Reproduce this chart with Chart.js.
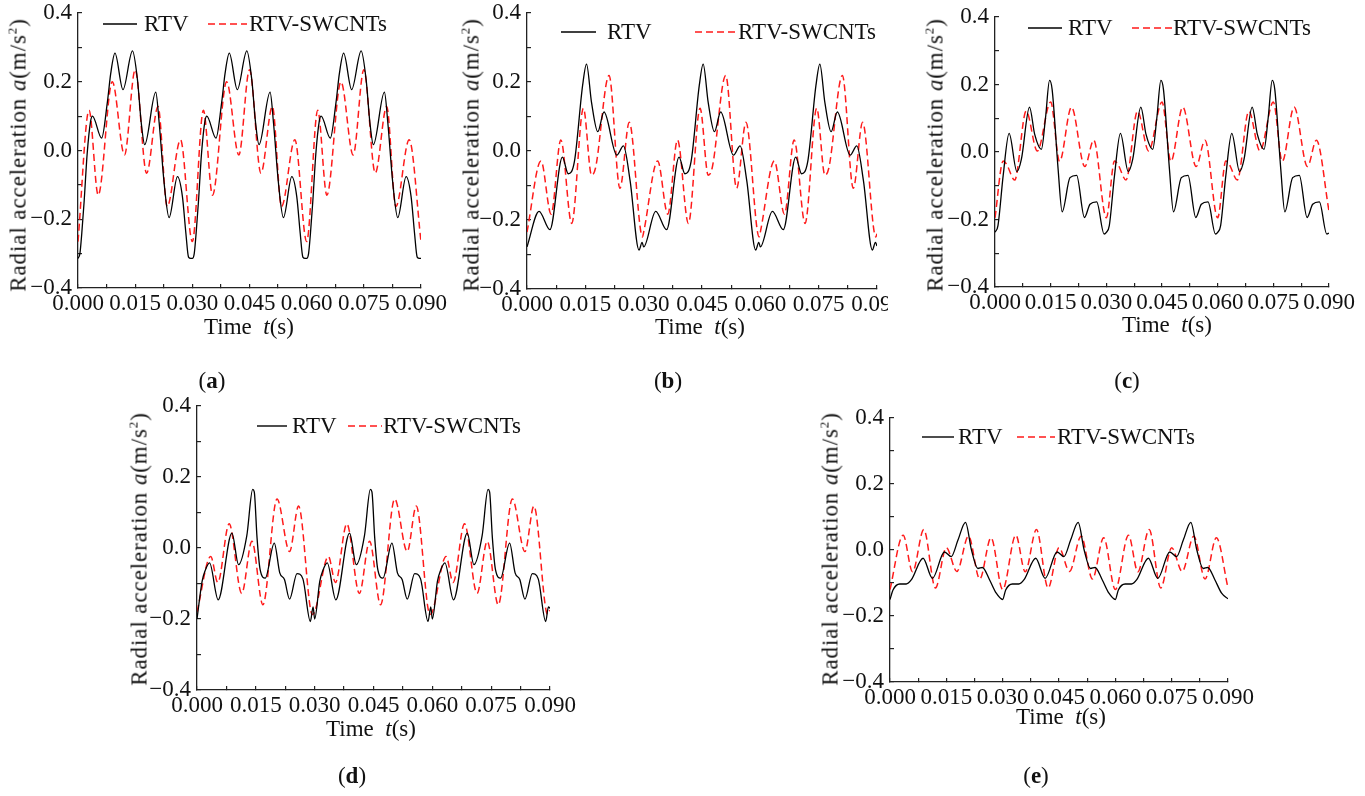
<!DOCTYPE html>
<html lang="en">
<head>
<meta charset="UTF-8">
<script src="https://cdn.jsdelivr.net/npm/chart.js"></script>
<title>Radial acceleration</title>
<style>
    html, body {
        margin: 0;
        padding: 0;
        background: #fff;
    }
    #page {
        position: relative;
        width: 1365px;
        height: 796px;
        overflow: hidden;
        font-family: 'Liberation Serif', 'Times New Roman', serif;
        color: #111;
    }
    .txt {
        position: absolute;
        white-space: nowrap;
        line-height: 26px;
    }
    .ytitle {
        font-size: 23px;
        letter-spacing: 0.9px;
        transform: translate(-50%, -50%) rotate(-90deg);
    }
    .xtitle {
        font-size: 23px;
        transform: translate(-50%, -50%);
    }
    .tag {
        font-size: 23px;
        transform: translate(-50%, -50%);
    }
    .leg {
        font-size: 23px;
    }
    .sup {
        font-size: 13px;
        position: relative;
        top: -9px;
    }
</style>
</head>
<body>
<div id="page"></div>
<script>
    // time in ms, acceleration in m/s^2

    // (a)
    const aRtvT = [0, 0.5, 1.0, 1.6, 2.4, 3.3, 3.8, 6.2, 7.7, 8.6, 9.7, 11.8, 14.3, 15.6, 16.6, 17.5, 20.4, 21.3, 22.6, 23.9, 26.1, 27.4, 28.3, 29.0, 29.6,
        30, 30.5, 31.0, 31.6, 32.4, 33.3, 33.8, 36.2, 37.7, 38.6, 39.7, 41.8, 44.3, 45.6, 46.6, 47.5, 50.4, 51.3, 52.6, 53.9, 56.1, 57.4, 58.3, 59.0, 59.6,
        60, 60.5, 61.0, 61.6, 62.4, 63.3, 63.8, 66.2, 67.7, 68.6, 69.7, 71.8, 74.3, 75.6, 76.6, 77.5, 80.4, 81.3, 82.6, 83.9, 86.1, 87.4, 88.3, 89.0, 89.6, 90];
    const aRtvV = [-0.314, -0.30, -0.24, -0.15, -0.01, 0.085, 0.10, 0.036, 0.14, 0.225, 0.283, 0.177, 0.29, 0.206, 0.08, 0.017, 0.17, 0.08, -0.095, -0.195, -0.076, -0.134, -0.24, -0.31, -0.314,
        -0.314, -0.30, -0.24, -0.15, -0.01, 0.085, 0.10, 0.036, 0.14, 0.225, 0.283, 0.177, 0.29, 0.206, 0.08, 0.017, 0.17, 0.08, -0.095, -0.195, -0.076, -0.134, -0.24, -0.31, -0.314,
        -0.314, -0.30, -0.24, -0.15, -0.01, 0.085, 0.10, 0.036, 0.14, 0.225, 0.283, 0.177, 0.29, 0.206, 0.08, 0.017, 0.17, 0.08, -0.095, -0.195, -0.076, -0.134, -0.24, -0.31, -0.314, -0.314];
    const aSwT = [0, 2.9, 5.3, 9.0, 12.2, 15.0, 18.0, 21.0, 23.4, 26.9,
        30, 32.9, 35.3, 39.0, 42.2, 45.0, 48.0, 51.0, 53.4, 56.9,
        60, 62.9, 65.3, 69.0, 72.2, 75.0, 78.0, 81.0, 83.4, 86.9, 90];
    const aSwV = [-0.265, 0.117, -0.13, 0.20, -0.013, 0.235, -0.066, 0.128, -0.163, 0.031,
        -0.265, 0.117, -0.13, 0.20, -0.013, 0.235, -0.066, 0.128, -0.163, 0.031,
        -0.265, 0.117, -0.13, 0.20, -0.013, 0.235, -0.066, 0.128, -0.163, 0.031, -0.265];

    // (b)
    const bRtvT = [0, 3.1, 5.9, 9.1, 10.6, 12.2, 14.3, 15.3, 16.6, 18.2, 19.8, 23.1, 24.8, 26.5, 28.8, 29.6,
        30, 33.1, 35.9, 39.1, 40.6, 42.2, 44.3, 45.3, 46.6, 48.2, 49.8, 53.1, 54.8, 56.5, 58.8, 59.6,
        60, 63.1, 65.9, 69.1, 70.6, 72.2, 74.3, 75.3, 76.6, 78.2, 79.8, 83.1, 84.8, 86.5, 88.8, 89.6, 90];
    const bRtvV = [-0.278, -0.175, -0.228, -0.018, -0.066, -0.03, 0.19, 0.252, 0.14, 0.056, 0.113, -0.012, 0.015, -0.085, -0.287, -0.265,
        -0.278, -0.175, -0.228, -0.018, -0.066, -0.03, 0.19, 0.252, 0.14, 0.056, 0.113, -0.012, 0.015, -0.085, -0.287, -0.265,
        -0.278, -0.175, -0.228, -0.018, -0.066, -0.03, 0.19, 0.252, 0.14, 0.056, 0.113, -0.012, 0.015, -0.085, -0.287, -0.265, -0.275];
    const bSwT = [0, 3.6, 6.2, 8.7, 11.5, 14.5, 16.6, 17.6, 21.1, 23.9, 26.3, 29.7,
        30, 33.6, 36.2, 38.7, 41.5, 44.5, 46.6, 47.6, 51.1, 53.9, 56.3, 59.7,
        60, 63.6, 66.2, 68.7, 71.5, 74.5, 76.6, 77.6, 81.1, 83.9, 86.3, 89.7, 90];
    const bSwV = [-0.235, -0.029, -0.183, 0.032, -0.21, 0.124, -0.07, -0.05, 0.219, -0.108, 0.083, -0.249,
        -0.235, -0.029, -0.183, 0.032, -0.21, 0.124, -0.07, -0.05, 0.219, -0.108, 0.083, -0.249,
        -0.235, -0.029, -0.183, 0.032, -0.21, 0.124, -0.07, -0.05, 0.219, -0.108, 0.083, -0.249, -0.24];

    // (c)
    const cRtvT = [0, 0.8, 2.2, 3.8, 5.9, 7.1, 9.3, 10.7, 12.5, 13.6, 14.7, 15.4, 17.0, 18.1, 20.2, 22.0, 24.1, 25.6, 27.4, 29.4,
        30, 30.8, 32.2, 33.8, 35.9, 37.1, 39.3, 40.7, 42.5, 43.6, 44.7, 45.4, 47.0, 48.1, 50.2, 52.0, 54.1, 55.6, 57.4, 59.4,
        60, 60.8, 62.2, 63.8, 65.9, 67.1, 69.3, 70.7, 72.5, 73.6, 74.7, 75.4, 77.0, 78.1, 80.2, 82.0, 84.1, 85.6, 87.4, 89.4, 90];
    const cRtvV = [-0.238, -0.218, -0.07, 0.055, -0.058, -0.022, 0.133, 0.052, 0.008, 0.10, 0.212, 0.185, -0.05, -0.177, -0.076, -0.069, -0.194, -0.155, -0.148, -0.243,
        -0.238, -0.218, -0.07, 0.055, -0.058, -0.022, 0.133, 0.052, 0.008, 0.10, 0.212, 0.185, -0.05, -0.177, -0.076, -0.069, -0.194, -0.155, -0.148, -0.243,
        -0.238, -0.218, -0.07, 0.055, -0.058, -0.022, 0.133, 0.052, 0.008, 0.10, 0.212, 0.185, -0.05, -0.177, -0.076, -0.069, -0.194, -0.155, -0.148, -0.243, -0.24];
    const cSwT = [0, 2.2, 3.1, 5.3, 8.4, 11.4, 15.0, 17.4, 20.6, 24.2, 26.6,
        30, 32.2, 33.1, 35.3, 38.4, 41.4, 45.0, 47.4, 50.6, 54.2, 56.6,
        60, 62.2, 63.1, 65.3, 68.4, 71.4, 75.0, 77.4, 80.6, 84.2, 86.6, 90];
    const cSwV = [-0.195, -0.027, -0.036, -0.083, 0.121, 0.003, 0.148, -0.028, 0.133, -0.043, 0.035,
        -0.195, -0.027, -0.036, -0.083, 0.121, 0.003, 0.148, -0.028, 0.133, -0.043, 0.035,
        -0.195, -0.027, -0.036, -0.083, 0.121, 0.003, 0.148, -0.028, 0.133, -0.043, 0.035, -0.175];

    // (d)
    const dRtvT = [0, 1.3, 2.1, 3.2, 5.4, 8.9, 10.6, 12.7, 14.2, 14.6, 15.3, 16.1, 17.4, 19.7, 21.1, 22.3, 23.6, 25.5, 27.0, 28.9, 29.6,
        30, 31.3, 32.1, 33.2, 35.4, 38.9, 40.6, 42.7, 44.2, 44.6, 45.3, 46.1, 47.4, 49.7, 51.1, 52.3, 53.6, 55.5, 57.0, 58.9, 59.6,
        60, 61.3, 62.1, 63.2, 65.4, 68.9, 70.6, 72.7, 74.2, 74.6, 75.3, 76.1, 77.4, 79.7, 81.1, 82.3, 83.6, 85.5, 87.0, 88.9, 89.6, 90];
    const dRtvV = [-0.2, -0.094, -0.063, -0.042, -0.146, 0.042, -0.047, 0.035, 0.165, 0.158, 0.03, -0.061, -0.085, 0.014, -0.07, -0.089, -0.144, -0.072, -0.087, -0.207, -0.166,
        -0.2, -0.094, -0.063, -0.042, -0.146, 0.042, -0.047, 0.035, 0.165, 0.158, 0.03, -0.061, -0.085, 0.014, -0.07, -0.089, -0.144, -0.072, -0.087, -0.207, -0.166,
        -0.2, -0.094, -0.063, -0.042, -0.146, 0.042, -0.047, 0.035, 0.165, 0.158, 0.03, -0.061, -0.085, 0.014, -0.07, -0.089, -0.144, -0.072, -0.087, -0.207, -0.166, -0.17];
    const dSwT = [0, 3.5, 5.3, 8.2, 11.4, 14.0, 16.8, 20.4, 23.6, 25.9, 29.4,
        30, 33.5, 35.3, 38.2, 41.4, 44.0, 46.8, 50.4, 53.6, 55.9, 59.4,
        60, 63.5, 65.3, 68.2, 71.4, 74.0, 76.8, 80.4, 83.6, 85.9, 89.4, 90];
    const dSwV = [-0.18, -0.024, -0.097, 0.068, -0.128, 0.019, -0.16, 0.138, -0.01, 0.118, -0.187,
        -0.18, -0.024, -0.097, 0.068, -0.128, 0.019, -0.16, 0.138, -0.01, 0.118, -0.187,
        -0.18, -0.024, -0.097, 0.068, -0.128, 0.019, -0.16, 0.138, -0.01, 0.118, -0.187, -0.175];

    // (e)
    const eRtvT = [0, 0.8, 2.6, 4.3, 5.7, 8.8, 11.3, 14.5, 16.3, 18.1, 20.1, 21.7, 23.4, 24.6, 26.5, 28.3,
        30, 30.8, 32.6, 34.3, 35.7, 38.8, 41.3, 44.5, 46.3, 48.1, 50.1, 51.7, 53.4, 54.6, 56.5, 58.3,
        60, 60.8, 62.6, 64.3, 65.7, 68.8, 71.3, 74.5, 76.3, 78.1, 80.1, 81.7, 83.4, 84.6, 86.5, 88.3, 90];
    const eRtvV = [-0.15, -0.121, -0.103, -0.103, -0.09, -0.025, -0.086, -0.006, -0.02, 0.03, 0.084, 0.0, -0.056, -0.053, -0.09, -0.131,
        -0.15, -0.121, -0.103, -0.103, -0.09, -0.025, -0.086, -0.006, -0.02, 0.03, 0.084, 0.0, -0.056, -0.053, -0.09, -0.131,
        -0.15, -0.121, -0.103, -0.103, -0.09, -0.025, -0.086, -0.006, -0.02, 0.03, 0.084, 0.0, -0.056, -0.053, -0.09, -0.131, -0.148];
    const eSwT = [0, 3.5, 6.0, 9.0, 12.1, 15.0, 17.8, 20.9, 23.9, 26.9,
        30, 33.5, 36.0, 39.0, 42.1, 45.0, 47.8, 50.9, 53.9, 56.9,
        60, 63.5, 66.0, 69.0, 72.1, 75.0, 77.8, 80.9, 83.9, 86.9, 90];
    const eSwV = [-0.12, 0.045, -0.066, 0.062, -0.115, 0.007, -0.065, 0.042, -0.088, 0.037,
        -0.12, 0.045, -0.066, 0.062, -0.115, 0.007, -0.065, 0.042, -0.088, 0.037,
        -0.12, 0.045, -0.066, 0.062, -0.115, 0.007, -0.065, 0.042, -0.088, 0.037, -0.115];

    const xTickLabels = ['0.000', '0.015', '0.030', '0.045', '0.060', '0.075', '0.090'];
    const yTickLabels = ['\u22120.4', '\u22120.2', '0.0', '0.2', '0.4'];
    const seriesNames = ['RTV', 'RTV-SWCNTs'];

    const BLACK = '#000000';
    const RED = '#ff1a1a';
    const AXIS = '#222222';
    const FONT = "'Liberation Serif', 'Times New Roman', serif";

    // plot area (page px) and where the texts sit
    const panels = [
        { tag: 'a', rtv: [aRtvT, aRtvV], sw: [aSwT, aSwV], l: 78, r: 421, t: 13, b: 288, rp: 30,
          yt: [20, 155], xt: [249, 327], tg: [212, 381], lg: [24, 103, 137, 144, 208, 247, 249] },
        { tag: 'b', rtv: [bRtvT, bRtvV], sw: [bSwT, bSwV], l: 527, r: 877, t: 13, b: 289, rp: 11,
          yt: [473, 155], xt: [700, 327], tg: [668, 381], lg: [32, 561, 596, 607, 695, 737, 738] },
        { tag: 'c', rtv: [cRtvT, cRtvV], sw: [cSwT, cSwV], l: 995, r: 1329, t: 17, b: 287, rp: 30,
          yt: [937, 155], xt: [1167, 325], tg: [1127, 381], lg: [28, 1028, 1062, 1068, 1132, 1172, 1173] },
        { tag: 'd', rtv: [dRtvT, dRtvV], sw: [dSwT, dSwV], l: 197, r: 550, t: 406, b: 690, rp: 30,
          yt: [141, 549], xt: [371, 729], tg: [352, 776], lg: [426, 257, 287, 292, 348, 382, 383] },
        { tag: 'e', rtv: [eRtvT, eRtvV], sw: [eSwT, eSwV], l: 890, r: 1228, t: 418, b: 682, rp: 30,
          yt: [832, 549], xt: [1061, 717], tg: [1036, 776], lg: [437, 922, 954, 958, 1017, 1055, 1057] }
    ];

    const page = document.getElementById('page');

    function pts(t, v) {
        return t.map((x, i) => ({ x: x, y: v[i] }));
    }

    function addText(cls, html, x, y) {
        const d = document.createElement('div');
        d.className = 'txt ' + cls;
        d.innerHTML = html;
        d.style.left = x + 'px';
        d.style.top = y + 'px';
        page.appendChild(d);
    }

    function addLine(x1, x2, y, dashed) {
        const ns = 'http://www.w3.org/2000/svg';
        const s = document.createElementNS(ns, 'svg');
        s.setAttribute('width', x2 - x1);
        s.setAttribute('height', 4);
        s.style.cssText = 'position:absolute;left:' + x1 + 'px;top:' + (y - 2) + 'px';
        const l = document.createElementNS(ns, 'line');
        l.setAttribute('x1', 0);
        l.setAttribute('x2', x2 - x1);
        l.setAttribute('y1', 2);
        l.setAttribute('y2', 2);
        l.setAttribute('stroke', dashed ? RED : BLACK);
        l.setAttribute('stroke-width', dashed ? 1.5 : 1.4);
        if (dashed) l.setAttribute('stroke-dasharray', '7 4');
        s.appendChild(l);
        page.appendChild(s);
    }

    function makePanel(p) {
        const left = p.l - 78, top = p.t - 12;
        const w = p.r + p.rp - left, h = p.b - top + 40;
        const c = document.createElement('canvas');
        c.width = w;
        c.height = h;
        c.style.cssText = 'position:absolute;left:' + left + 'px;top:' + top + 'px;width:' + w + 'px;height:' + h + 'px';
        page.appendChild(c);

        new Chart(c, {
            type: 'line',
            data: {
                datasets: [
                    { label: seriesNames[0], data: pts(p.rtv[0], p.rtv[1]), borderColor: BLACK, backgroundColor: BLACK, borderWidth: 1.3 },
                    { label: seriesNames[1], data: pts(p.sw[0], p.sw[1]), borderColor: RED, backgroundColor: RED, borderWidth: 1.5, borderDash: [7, 4] }
                ]
            },
            options: {
                responsive: false,
                animation: false,
                devicePixelRatio: 1,
                layout: { padding: { left: 0, top: 12, right: p.rp, bottom: 0 } },
                elements: {
                    point: { radius: 0 },
                    line: { cubicInterpolationMode: 'monotone', fill: false }
                },
                plugins: { legend: { display: false }, tooltip: { enabled: false } },
                scales: {
                    x: {
                        type: 'linear', position: 'bottom', min: 0, max: 90,
                        afterFit: s => { s.height = 40; s.paddingLeft = 0; s.paddingRight = 0; },
                        border: { display: true, color: AXIS, width: 1.3 },
                        grid: { display: true, drawOnChartArea: false, drawTicks: true, tickLength: -4, color: AXIS, lineWidth: 1.2 },
                        ticks: {
                            stepSize: 7.5, autoSkip: false, maxRotation: 0, padding: 6, color: '#111',
                            font: { family: FONT, size: 23 },
                            callback: (v, i) => i % 2 === 0 ? xTickLabels[i / 2] : ''
                        }
                    },
                    y: {
                        type: 'linear', position: 'left', min: -0.4, max: 0.4,
                        afterFit: s => { s.width = 78; s.paddingTop = 0; s.paddingBottom = 0; },
                        border: { display: true, color: AXIS, width: 1.3 },
                        grid: { display: true, drawOnChartArea: false, drawTicks: true, tickLength: -4, color: AXIS, lineWidth: 1.2 },
                        ticks: {
                            stepSize: 0.1, autoSkip: false, padding: 10, color: '#111',
                            font: { family: FONT, size: 23 },
                            callback: (v, i) => i % 2 === 0 ? yTickLabels[i / 2] : ''
                        }
                    }
                }
            }
        });

        addText('ytitle', 'Radial acceleration <i>a</i>(m/s<span class="sup">2</span>)', p.yt[0], p.yt[1]);
        addText('xtitle', 'Time&nbsp;&nbsp;<i>t</i>(s)', p.xt[0], p.xt[1]);
        addText('tag', '(<b>' + p.tag + '</b>)', p.tg[0], p.tg[1]);

        const lg = p.lg;
        addLine(lg[1], lg[2], lg[0], false);
        addText('leg', seriesNames[0], lg[3], lg[0] - 13);
        addLine(lg[4], lg[5], lg[0], true);
        addText('leg', seriesNames[1], lg[6], lg[0] - 13);
    }

    panels.forEach(makePanel);
</script>
</body>
</html>
